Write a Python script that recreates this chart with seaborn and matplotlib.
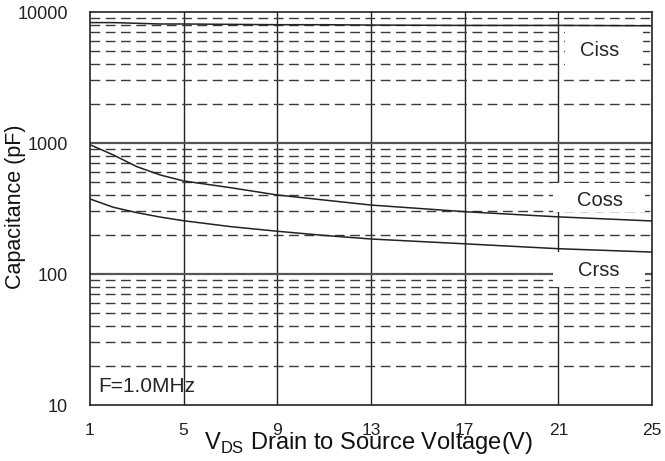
import numpy as np
import pandas as pd
import matplotlib
matplotlib.use("Agg")
import matplotlib.pyplot as plt
import seaborn as sns
from matplotlib.patches import Rectangle

# capacitance vs drain-source voltage
vds = [1, 2, 3, 4, 5, 7, 9, 11, 13, 17, 21, 25]
ciss = [8300, 8300, 8200, 8100, 8100, 8050, 8000, 8000, 7950, 7900, 7900, 7850]
coss = [970, 810, 660, 570, 513, 456, 401, 367, 336, 299, 273, 254]
crss = [374, 323, 294, 272, 255, 230, 212, 197, 185, 170, 156, 147]

xticks = [1, 5, 9, 13, 17, 21, 25]
yticks = [10, 100, 1000, 10000]

df = pd.DataFrame({
    "vds": vds * 3,
    "cap": ciss + coss + crss,
    "kind": ["Ciss"] * len(vds) + ["Coss"] * len(vds) + ["Crss"] * len(vds),
})

sns.set_style("white")
plt.rcParams["font.family"] = ["Liberation Sans", "DejaVu Sans"]
plt.rcParams["mathtext.fontset"] = "custom"
plt.rcParams["mathtext.rm"] = "Liberation Sans"

fig = plt.figure(figsize=(6.65, 4.61), dpi=100)
ax = fig.add_axes([90 / 665, 56 / 461, 562 / 665, 393 / 461])

ax.set_yscale("log")
ax.set_xlim(1, 25)
ax.set_ylim(10, 10000)

# grid: solid decades / verticals, dashed minor decades
for v in xticks[1:-1]:
    ax.axvline(v, color="#222222", lw=1.0, zorder=1)
for d in [100, 1000]:
    ax.axhline(d, color="#555555", lw=1.6, zorder=1)
for d in [10, 100, 1000]:
    for m in range(2, 10):
        ax.axhline(d * m, color="#3a3a3a", lw=1.0, ls=(0, (7, 4)), zorder=1)

# white label boxes hiding the grid
for (x0, y0, w, h) in [(565, 29, 78, 41), (553, 183, 92, 29), (553, 252, 92, 35)]:
    ax.add_patch(Rectangle((x0, 461 - y0 - h), w, h, transform=None,
                           facecolor="white", edgecolor="none", zorder=2))

sns.lineplot(data=df, x="vds", y="cap", units="kind", estimator=None,
             color="#222222", lw=1.1, ax=ax, zorder=3, legend=False)

ax.text(600, 461 - 50, "Ciss", transform=None, ha="center", va="center", fontsize=14.5, zorder=4)
ax.text(600, 461 - 200, "Coss", transform=None, ha="center", va="center", fontsize=14.5, zorder=4)
ax.text(599, 461 - 270, "Crss", transform=None, ha="center", va="center", fontsize=14.5, zorder=4)
ax.text(98, 461 - 386, "F=1.0MHz", transform=None, ha="left", va="center", fontsize=15, zorder=4)

ax.set_xticks(xticks)
ax.set_xticklabels([str(t) for t in xticks])
ax.set_yticks(yticks)
ax.set_yticklabels([str(t) for t in yticks])
ax.yaxis.set_minor_formatter(matplotlib.ticker.NullFormatter())
ax.tick_params(axis="x", which="major", direction="in", length=4, pad=13, labelsize=12.5,
               color="#222222", labelcolor="#222222")
ax.tick_params(axis="y", which="both", direction="in", length=0, pad=16, labelsize=13,
               labelcolor="#222222")

ax.set_xlabel("V$_{\\mathrm{DS}}$ Drain to Source Voltage(V)", fontsize=17, color="#111111")
ax.xaxis.label.set_va("center")
ax.xaxis.set_label_coords(0.495, -0.097)
ax.set_ylabel("Capacitance (pF)", fontsize=15.5, color="#111111")
ax.yaxis.label.set_va("center")
ax.yaxis.set_label_coords(-0.132, 0.504)

for s in ax.spines.values():
    s.set_color("#222222")
    s.set_linewidth(1.2)

fig.savefig("out.png", dpi=100)
